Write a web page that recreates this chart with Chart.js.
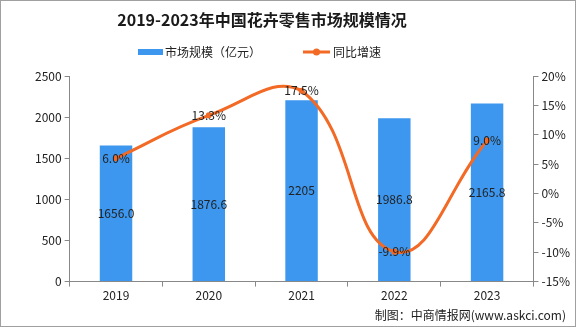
<!DOCTYPE html>
<html>
<head>
<meta charset="utf-8">
<script src="https://cdn.jsdelivr.net/npm/chart.js@4"></script>
<style>
  html, body { margin: 0; padding: 0; background: #fff; }
  #wrap { width: 576px; height: 327px; }
</style>
</head>
<body>
<div id="wrap"><canvas id="myChart" width="576" height="327"></canvas></div>
<script>
var years = ['2019', '2020', '2021', '2022', '2023']
var marketSize = [1656.0, 1876.6, 2205, 1986.8, 2165.8]
var sizeLabels = ['1656.0', '1876.6', '2205', '1986.8', '2165.8']
var growth = [6.0, 13.3, 17.5, -9.9, 9.0]
var growthLabels = ['6.0%', '13.3%', '17.5%', '-9.9%', '9.0%']

var FONT = '"Noto Sans CJK SC", "Microsoft YaHei", sans-serif'
var barColor = '#3D97EE'
var lineColor = '#F26A25'

// title, legend, labels and footer drawn by hand
var extras = {
  id: 'extras',
  afterDraw: function(chart) {
    var ctx = chart.ctx
    ctx.save()
    // frame
    ctx.strokeStyle = '#a0a0a0'
    ctx.lineWidth = 1
    ctx.strokeRect(0.5, 0.5, 575, 326)

    // title
    ctx.fillStyle = '#1a1a1a'
    ctx.font = 'bold 16px ' + FONT
    ctx.textAlign = 'center'
    ctx.textBaseline = 'middle'
    ctx.fillText('2019-2023年中国花卉零售市场规模情况', 262, 20)

    // legend
    ctx.font = '12px ' + FONT
    ctx.textAlign = 'left'
    ctx.fillStyle = barColor
    ctx.fillRect(138, 49, 25, 6)
    ctx.fillStyle = '#222'
    ctx.fillText(chart.data.datasets[0].label, 165, 52)
    ctx.strokeStyle = lineColor
    ctx.lineWidth = 3
    ctx.beginPath()
    ctx.moveTo(303, 52)
    ctx.lineTo(330, 52)
    ctx.stroke()
    ctx.fillStyle = lineColor
    ctx.beginPath()
    ctx.arc(316.5, 52, 3.5, 0, Math.PI * 2)
    ctx.fill()
    ctx.fillStyle = '#222'
    ctx.fillText(chart.data.datasets[1].label, 333, 52)

    // data labels
    ctx.textAlign = 'center'
    ctx.font = '12px ' + FONT
    var barMeta = chart.getDatasetMeta(0)
    barMeta.data.forEach(function(bar, i) {
      ctx.fillText(sizeLabels[i], bar.x, (bar.y + bar.base) / 2)
    })
    var lineMeta = chart.getDatasetMeta(1)
    lineMeta.data.forEach(function(pt, i) {
      ctx.fillText(growthLabels[i], pt.x, pt.y)
    })

    // footer
    ctx.textAlign = 'right'
    ctx.fillText('制图：中商情报网(www.askci.com)', 566, 315)
    ctx.restore()
  }
}

var data = {
  labels: years,
  datasets: [{
    type: 'bar',
    label: '市场规模（亿元）',
    data: marketSize,
    yAxisID: 'y',
    backgroundColor: barColor,
    barPercentage: 0.7,
    categoryPercentage: 0.5,
    order: 1
  }, {
    type: 'line',
    label: '同比增速',
    data: growth,
    yAxisID: 'y1',
    borderColor: lineColor,
    backgroundColor: lineColor,
    borderWidth: 3,
    tension: 0.45,
    pointRadius: 3,
    pointBorderWidth: 0,
    order: 0
  }]
}

const config = {
  type: 'bar',
  data,
  plugins: [extras],
  options: {
    responsive: false,
    animation: false,
    layout: { padding: { top: 76, left: 32, right: 3, bottom: 22 } },
    plugins: {
      legend: { display: false },
      title: { display: false },
      tooltip: { enabled: false }
    },
    scales: {
      x: {
        grid: { display: true, drawOnChartArea: false, offset: true, tickLength: 5, color: '#888' },
        border: { color: '#888' },
        ticks: { color: '#222', font: { family: FONT, size: 12 }, padding: 2 }
      },
      y: {
        position: 'left',
        min: 0, max: 2500,
        ticks: {
          stepSize: 500, color: '#222', font: { family: FONT, size: 12 }, padding: 3,
          callback: function(v) { return String(v) }
        },
        grid: { drawOnChartArea: false, tickLength: 5, color: '#888' },
        border: { color: '#888' }
      },
      y1: {
        position: 'right',
        min: -15, max: 20,
        ticks: {
          stepSize: 5, color: '#222', font: { family: FONT, size: 12 }, padding: 3,
          callback: function(v) { return v + '%' }
        },
        grid: { drawOnChartArea: false, tickLength: 5, color: '#888' },
        border: { color: '#888' }
      }
    }
  }
}

var myChart = new Chart(document.getElementById('myChart'), config)
</script>
</body>
</html>
